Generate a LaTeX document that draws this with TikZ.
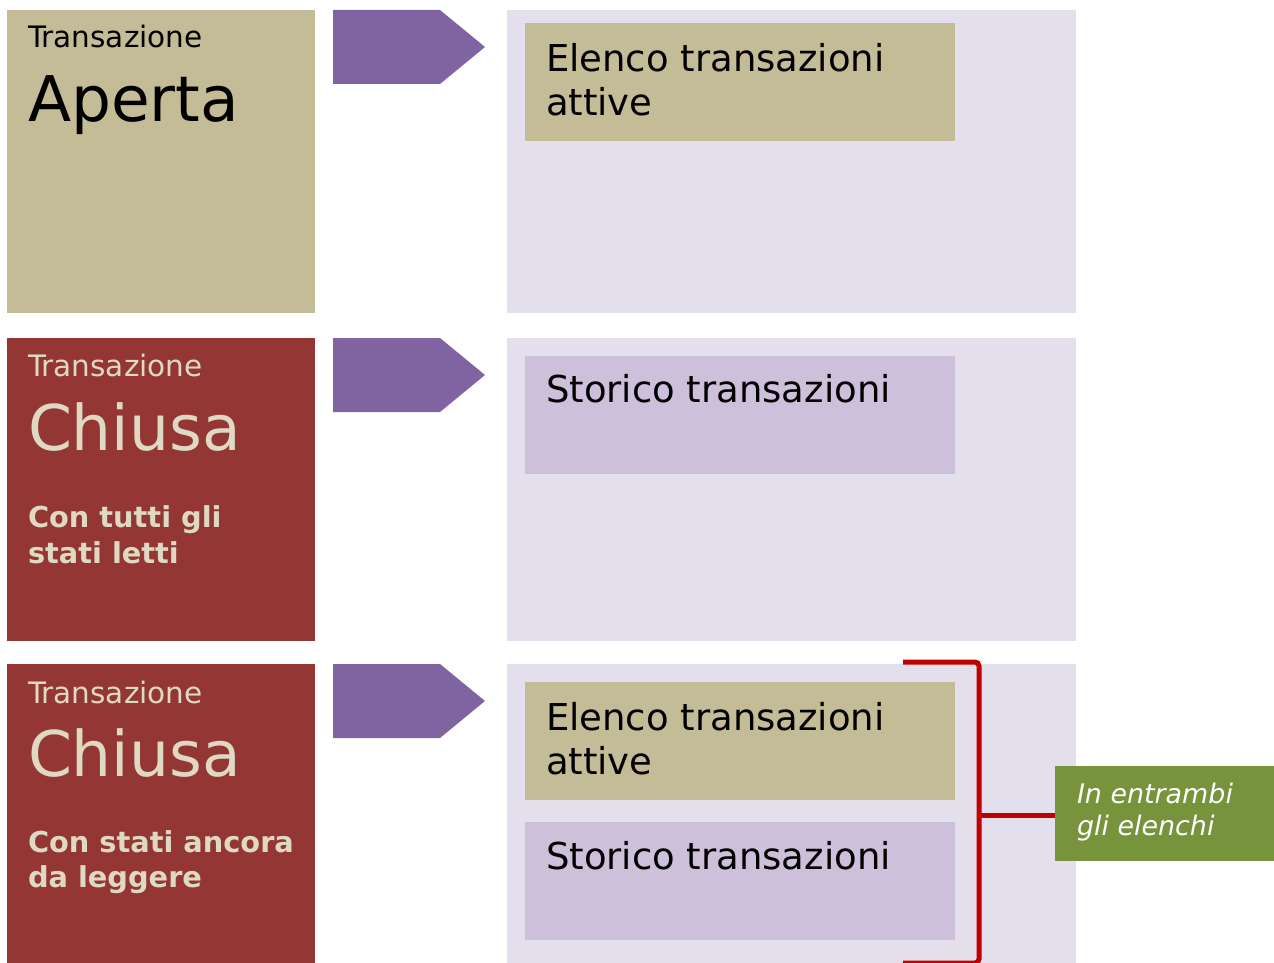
\documentclass[tikz,border=0pt]{standalone}
\usepackage{fontspec}
\setmainfont{DejaVu Sans}
\definecolor{khaki}{HTML}{C4BC96}
\definecolor{darkred}{HTML}{943634}
\definecolor{arrowpurple}{HTML}{8064A2}
\definecolor{lightlav}{HTML}{E4DFEC}
\definecolor{midlav}{HTML}{CCC0DA}
\definecolor{leafgreen}{HTML}{77933C}
\definecolor{bracketred}{HTML}{C00000}
\definecolor{cream}{HTML}{DDD9C3}
\tikzset{
  box/.style={draw=none, inner sep=0pt, outer sep=0pt},
  txt/.style={anchor=base west, inner sep=0pt, outer sep=0pt},
  small/.style={txt, font=\fontsize{29.5}{34}\selectfont},
  big/.style={txt, font=\fontsize{63}{70}\selectfont},
  note/.style={txt, font=\bfseries\fontsize{28.8}{34}\selectfont, text=cream},
  list/.style={txt, font=\fontsize{37}{44}\selectfont},
  greentxt/.style={txt, font=\itshape\fontsize{26.9}{32}\selectfont, text=white},
  chev/.style={fill=arrowpurple},
  brk/.style={draw=bracketred, line width=5pt},
}
\begin{document}
\begin{tikzpicture}[x=1pt, y=-1pt]
\useasboundingbox (0,0) rectangle (1274,963);
% left state boxes
\fill[khaki] (7,10) rectangle (315,313);
\fill[darkred] (7,338) rectangle (315,641);
\fill[darkred] (7,664) rectangle (315,963);
\node[small] (t1) at (28,48) {Transazione};
\node[big] (a1) at (28,122) {Aperta};
\node[small, text=cream] (t2) at (28,376) {Transazione};
\node[big, text=cream] (a2) at (28,450) {Chiusa};
\node[note] (n2a) at (28,527) {Con tutti gli};
\node[note] (n2b) at (28,563) {stati letti};
\node[small, text=cream] (t3) at (28,703) {Transazione};
\node[big, text=cream] (a3) at (28,776) {Chiusa};
\node[note] (n3a) at (28,852) {Con stati ancora};
\node[note] (n3b) at (28,887) {da leggere};
% chevrons
\foreach \y in {10,338,664}{
  \fill[chev] (333,\y) -- (440,\y) -- (485,\y+37) -- (440,\y+74) -- (333,\y+74) -- cycle;
}
% right panels
\fill[lightlav] (507,10) rectangle (1076,313);
\fill[lightlav] (507,338) rectangle (1076,641);
\fill[lightlav] (507,664) rectangle (1076,963);
\fill[khaki] (525,23) rectangle (955,141);
\fill[midlav] (525,356) rectangle (955,474);
\fill[khaki] (525,682) rectangle (955,800);
\fill[midlav] (525,822) rectangle (955,940);
\node[list] (l1a) at (546,72) {Elenco transazioni};
\node[list] (l1b) at (546,116) {attive};
\node[list] (l2) at (546,402) {Storico transazioni};
\node[list] (l3a) at (546,730) {Elenco transazioni};
\node[list] (l3b) at (546,774) {attive};
\node[list] (l4) at (546,869) {Storico transazioni};
% green label
\node[box, fill=leafgreen, minimum width=219pt, minimum height=95pt, anchor=north west] (g) at (1055,766) {};
\node[greentxt] (g1) at (1077,803) {In entrambi};
\node[greentxt] (g2) at (1077,835) {gli elenchi};
% bracket
\coordinate (bt) at (903,662);
\coordinate (bb) at (903,963);
\coordinate (bm) at (979,815);
\draw[brk, rounded corners=4pt] (bt) -- (979,662) -- (979,963) -- (bb);
\draw[brk] (bm) -- (g.west |- bm);
\end{tikzpicture}
\end{document}
